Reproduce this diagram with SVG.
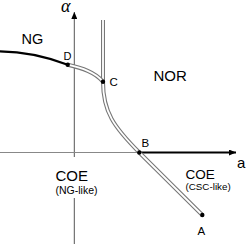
<svg xmlns="http://www.w3.org/2000/svg" width="246" height="244" viewBox="0 0 246 244">
<style>
.t{font-family:"Liberation Sans",Arial,sans-serif;fill:#000}
.dbl-o{fill:none;stroke:#777;stroke-width:4}
.dbl-i{fill:none;stroke:#fff;stroke-width:1.8}
.thick{fill:none;stroke:#000;stroke-width:2.2}
.dot{fill:#000}
</style>
<defs>
<marker id="ah" markerWidth="8" markerHeight="6" refX="7" refY="3" orient="auto" markerUnits="userSpaceOnUse">
<path d="M0,0 L7,3 L0,6 Z" fill="#000"/>
</marker>
</defs>
<rect width="246" height="244" fill="#fff"/>
<g id="connectors">
<line x1="74.3" y1="244" x2="74.3" y2="12" stroke="#555" stroke-width="1" marker-end="url(#ah)"/>
<line x1="0" y1="152.5" x2="139.3" y2="152.5" stroke="#888" stroke-width="1.2"/>
<line x1="139.3" y1="152.5" x2="236" y2="152.5" class="thick" marker-end="url(#ah)"/>
<path class="thick" d="M0,51.3 C20,51.5 45,56 67.7,64.7"/>
<path class="dbl-o" d="M103,20 L103,81.7 C103,112 114,127 139.3,152.5 L202.3,215"/>
<path class="dbl-i" d="M103,20 L103,81.7 C103,112 114,127 139.3,152.5 L202.3,215"/>
<path class="dbl-o" d="M67.7,64.7 C82,68 95,72 103,81.7"/>
<path class="dbl-i" d="M67.7,64.7 C82,68 95,72 103,81.7"/>
</g>
<g id="node-D"><circle class="dot" cx="67.7" cy="64.7" r="2.2"/><text class="t" x="63.5" y="59.5" font-size="11">D</text></g>
<g id="node-C"><circle class="dot" cx="103" cy="81.7" r="2.2"/><text class="t" x="109.5" y="85.5" font-size="11.5">C</text></g>
<g id="node-B"><circle class="dot" cx="139.3" cy="152.5" r="2.2"/><text class="t" x="141.5" y="146.5" font-size="11.5">B</text></g>
<g id="node-A"><circle class="dot" cx="202.3" cy="215" r="2.2"/><text class="t" x="197.5" y="234.5" font-size="11.5">A</text></g>
<g id="labels">
<text x="61" y="12" font-family="'Liberation Serif','Times New Roman',serif" font-style="italic" font-size="18">α</text>
<text class="t" x="237" y="167.7" font-size="15">a</text>
<text class="t" x="21.5" y="43.5" font-size="14.5">NG</text>
<text class="t" x="153.5" y="81.3" font-size="15">NOR</text>
<rect x="54" y="157" width="46" height="41" fill="#fff"/>
<text class="t" x="55.5" y="181" font-size="15">COE</text>
<text class="t" x="55.5" y="194" font-size="10.5">(NG-like)</text>
<text class="t" x="185.5" y="178.7" font-size="13.5">COE</text>
<text class="t" x="185.5" y="189.5" font-size="9.8">(CSC-like)</text>
</g>
</svg>
